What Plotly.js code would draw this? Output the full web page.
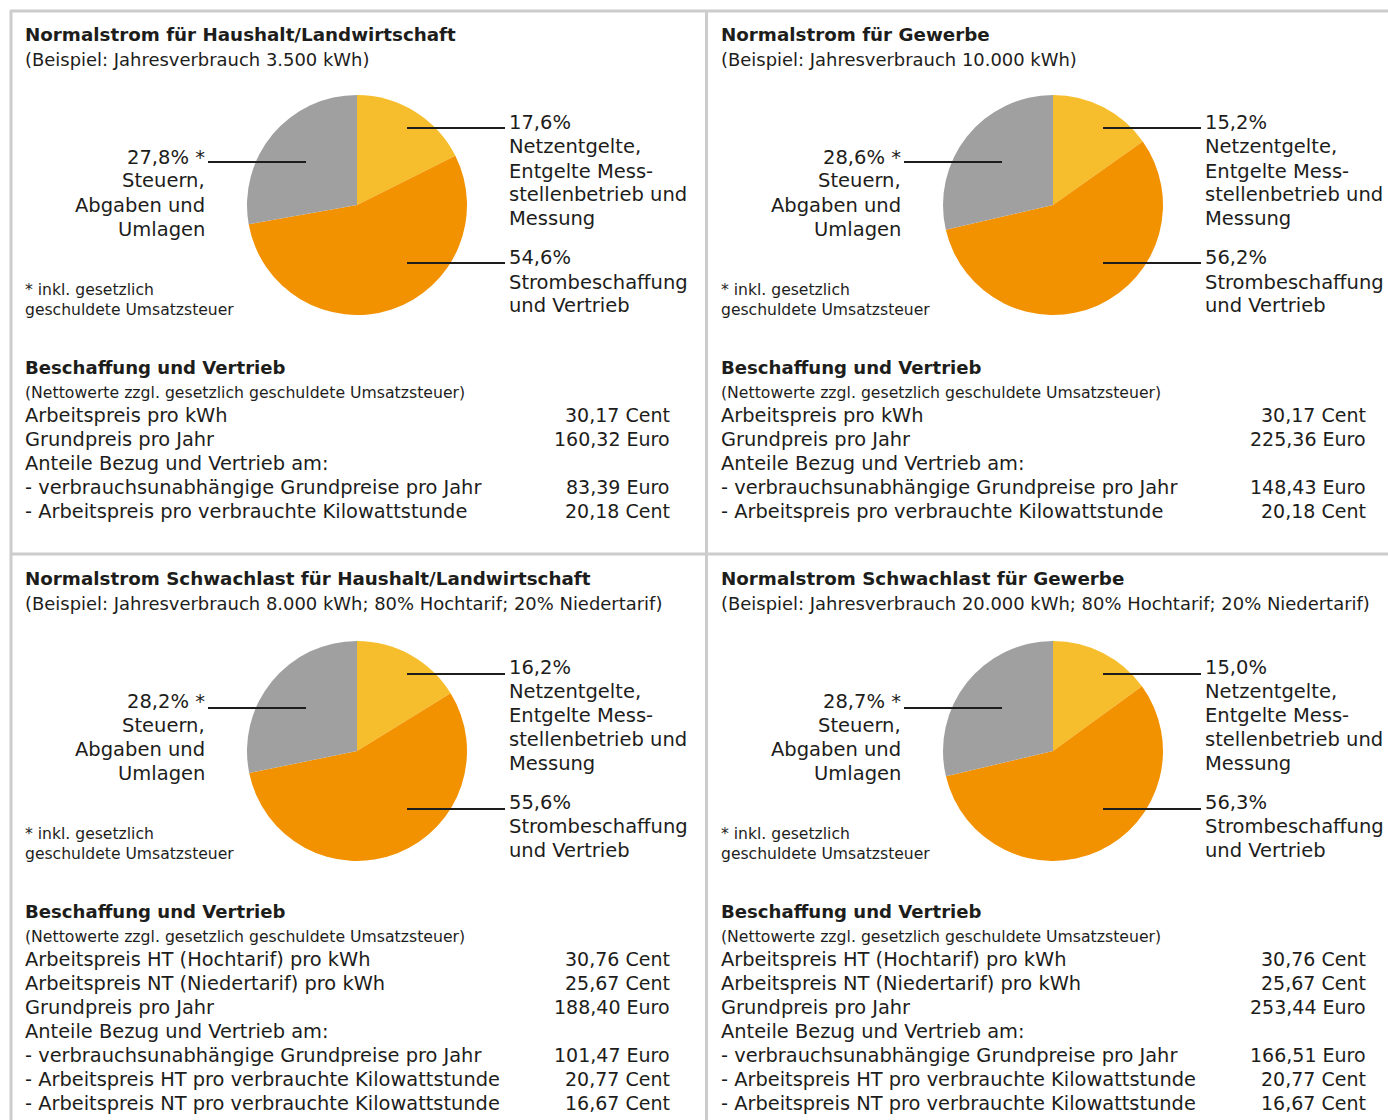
<!DOCTYPE html>
<html><head><meta charset="utf-8">
<script src="https://cdn.plot.ly/plotly-3.0.1.min.js"></script>
<style>html,body{margin:0;padding:0;background:#fff}#chart{width:1388px;height:1120px}</style>
</head><body><div id="chart"></div>
<script>
// ---------- DATA ----------
const panelTitles = [
  'Normalstrom für Haushalt/Landwirtschaft',
  'Normalstrom für Gewerbe',
  'Normalstrom Schwachlast für Haushalt/Landwirtschaft',
  'Normalstrom Schwachlast für Gewerbe'
];
const panelSubtitles = [
  '(Beispiel: Jahresverbrauch 3.500 kWh)',
  '(Beispiel: Jahresverbrauch 10.000 kWh)',
  '(Beispiel: Jahresverbrauch 8.000 kWh; 80% Hochtarif; 20% Niedertarif)',
  '(Beispiel: Jahresverbrauch 20.000 kWh; 80% Hochtarif; 20% Niedertarif)'
];
const sliceNames = ['Netzentgelte, Entgelte Messstellenbetrieb und Messung', 'Strombeschaffung und Vertrieb', 'Steuern, Abgaben und Umlagen'];
const shareNetz = [17.6, 15.2, 16.2, 15.0];
const shareBeschaffung = [54.6, 56.2, 55.6, 56.3];
const shareSteuern = [27.8, 28.6, 28.2, 28.7];
const labelNetzLines = ['Netzentgelte,', 'Entgelte Mess-', 'stellenbetrieb und', 'Messung'];
const labelBeschaffungLines = ['Strombeschaffung', 'und Vertrieb'];
const labelSteuernLines = ['Steuern,', 'Abgaben und', 'Umlagen'];
const footnoteLines = ['* inkl. gesetzlich', 'geschuldete Umsatzsteuer'];
const sectionTitle = 'Beschaffung und Vertrieb';
const sectionNote = '(Nettowerte zzgl. gesetzlich geschuldete Umsatzsteuer)';
const priceLabelsTop = ['Arbeitspreis pro kWh', 'Grundpreis pro Jahr', 'Anteile Bezug und Vertrieb am:',
  '- verbrauchsunabhängige Grundpreise pro Jahr', '- Arbeitspreis pro verbrauchte Kilowattstunde'];
const priceValuesP1 = ['30,17 Cent', '160,32 Euro', '', '83,39 Euro', '20,18 Cent'];
const priceValuesP2 = ['30,17 Cent', '225,36 Euro', '', '148,43 Euro', '20,18 Cent'];
const priceLabelsBottom = ['Arbeitspreis HT (Hochtarif) pro kWh', 'Arbeitspreis NT (Niedertarif) pro kWh', 'Grundpreis pro Jahr',
  'Anteile Bezug und Vertrieb am:', '- verbrauchsunabhängige Grundpreise pro Jahr',
  '- Arbeitspreis HT pro verbrauchte Kilowattstunde', '- Arbeitspreis NT pro verbrauchte Kilowattstunde'];
const priceValuesP3 = ['30,76 Cent', '25,67 Cent', '188,40 Euro', '', '101,47 Euro', '20,77 Cent', '16,67 Cent'];
const priceValuesP4 = ['30,76 Cent', '25,67 Cent', '253,44 Euro', '', '166,51 Euro', '20,77 Cent', '16,67 Cent'];

// ---------- LAYOUT HELPERS ----------
const W = 1388, H = 1120;
const FONT = 'DejaVu Sans, Open Sans, sans-serif';
const TXT = '#1d1d1b';
const colors = ['#F6BE2C', '#F39200', '#A0A0A0'];
const px = x => x / W;
const py = y => 1 - y / H;
const offX = [0, 696, 0, 696];
const offY = [0, 0, 544, 544];
const pieOffY = [0, 0, 546, 546];
const labelSets = [priceLabelsTop, priceLabelsTop, priceLabelsBottom, priceLabelsBottom];
const valueSets = [priceValuesP1, priceValuesP2, priceValuesP3, priceValuesP4];
const fmt = v => v.toFixed(1).replace('.', ',') + '%';

const SZ = {title: 18.3, sub: 17.95, label: 19.5, foot: 15.6, secTitle: 18.1, secNote: 15.7, body: 19.4, value: 19.0};

const traces = [];
const annotations = [];
const shapes = [];

function ann(text, x, y, size, anchor, bold) {
  annotations.push({
    text: bold ? '<b>' + text + '</b>' : text,
    x: px(x), y: py(y), xref: 'paper', yref: 'paper',
    xanchor: anchor, yanchor: 'middle', showarrow: false,
    borderpad: 0, borderwidth: 0,
    font: {family: FONT, size: size, color: TXT}
  });
}
function line(x0, y0, x1, y1, color, width) {
  shapes.push({type: 'line', xref: 'paper', yref: 'paper', x0: px(x0), y0: py(y0), x1: px(x1), y1: py(y1),
    line: {color: color, width: width}});
}

for (let i = 0; i < 4; i++) {
  const ox = offX[i], oy = offY[i];
  const cx = 357 + ox, cy = 205 + pieOffY[i], r = 110;
  traces.push({
    type: 'pie', values: [shareNetz[i], shareBeschaffung[i], shareSteuern[i]], labels: sliceNames,
    sort: false, direction: 'clockwise', rotation: 0, textinfo: 'none', hoverinfo: 'label+percent',
    marker: {colors: colors, line: {width: 0}},
    domain: {x: [px(cx - r), px(cx + r)], y: [py(cy + r), py(cy - r)]},
    showlegend: false
  });
  // titles
  ann(panelTitles[i], 25 + ox, 34 + oy, SZ.title, 'left', true);
  ann(panelSubtitles[i], 25 + ox, 59 + oy, SZ.sub, 'left', false);
  // right labels
  const lpo = pieOffY[i];
  line(407 + ox, 128 + lpo, 505 + ox, 128 + lpo, '#1d1d1b', 2);
  ann(fmt(shareNetz[i]), 509 + ox, 123 + oy, SZ.label, 'left');
  labelNetzLines.forEach((t, k) => ann(t, 509 + ox, 147 + 24 * k + oy, SZ.label, 'left'));
  line(407 + ox, 263 + lpo, 505 + ox, 263 + lpo, '#1d1d1b', 2);
  ann(fmt(shareBeschaffung[i]), 509 + ox, 258 + oy, SZ.label, 'left');
  labelBeschaffungLines.forEach((t, k) => ann(t, 509 + ox, 282 + 24 * k + oy, SZ.label, 'left'));
  // left labels
  line(208 + ox, 162 + lpo, 306 + ox, 162 + lpo, '#1d1d1b', 2);
  ann(fmt(shareSteuern[i]) + ' *', 205 + ox, 157 + oy, SZ.label, 'right');
  labelSteuernLines.forEach((t, k) => ann(t, 205 + ox, 181 + 24 * k + oy, SZ.label, 'right'));
  // footnote
  footnoteLines.forEach((t, k) => ann(t, 25 + ox, 290 + 20 * k + oy, SZ.foot, 'left'));
  // section
  ann(sectionTitle, 25 + ox, 367 + oy, SZ.secTitle, 'left', true);
  ann(sectionNote, 25 + ox, 392 + oy, SZ.secNote, 'left');
  labelSets[i].forEach((t, k) => ann(t, 25 + ox, 415 + 24 * k + oy, SZ.body, 'left'));
  valueSets[i].forEach((t, k) => { if (t) ann(t, 670 + ox, 415 + 24 * k + oy, SZ.value, 'right'); });
}

// panel borders
const BC = '#cccccc';
line(10, 11, 1388, 11, BC, 3);
line(11, 10, 11, 1120, BC, 3);
line(706.5, 10, 706.5, 1120, BC, 3);
line(10, 554, 1388, 554, BC, 3);

Plotly.newPlot('chart', traces, {
  width: W, height: H, margin: {l: 0, r: 0, t: 0, b: 0},
  paper_bgcolor: '#ffffff', plot_bgcolor: '#ffffff',
  showlegend: false, annotations: annotations, shapes: shapes
}, {displayModeBar: false, staticPlot: true});
</script></body></html>
